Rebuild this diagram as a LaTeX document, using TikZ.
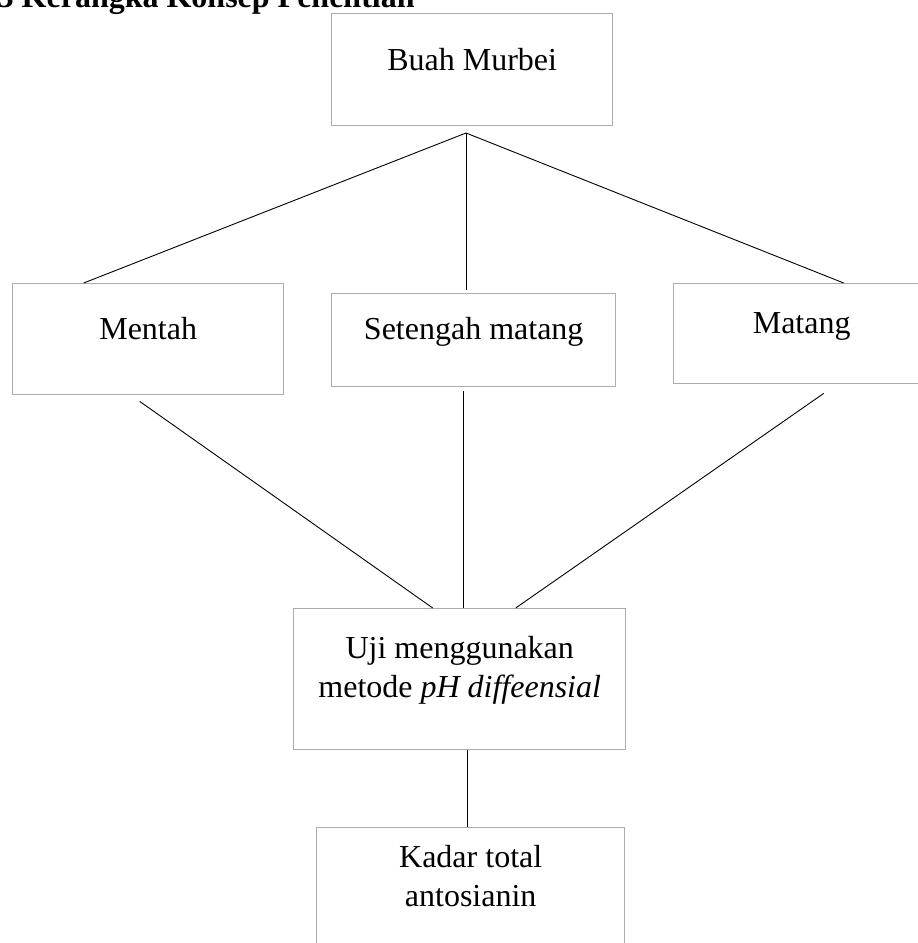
\documentclass[tikz,border=0pt]{standalone}
\usepackage{fontspec}
\setmainfont{Liberation Serif}

\begin{document}
\begin{tikzpicture}[x=0.5pt, y=-0.5pt, every node/.style={inner sep=0pt, font=\fontsize{16}{19.5}\selectfont},
  kotak/.style={draw=black!33, line width=0.7pt, anchor=north west},
  garis/.style={line width=0.45pt}]

\useasboundingbox (0,0) rectangle (917,943);

  % Title
  \node (judul) [anchor=base east, font=\fontsize{16}{19.5}\selectfont\bfseries] at (415,7) {3 Kerangka Konsep Penelitian};

  % Nodes
  \node (murbei) [kotak, minimum width=140.5pt, text height=28.5pt, text depth=27.5pt] at (331,13) {Buah Murbei};
  \node (mentah) [kotak, minimum width=135.5pt, text height=28pt, text depth=27.5pt] at (12,283) {Mentah};
  \node (setengah) [kotak, minimum width=142pt, text height=23pt, text depth=23.5pt] at (331,293) {Setengah matang};
  \node (matang) [kotak, minimum width=128pt, text height=25pt, text depth=25pt] at (673,283) {Matang};
  \node (uji) [kotak, minimum width=166pt, text height=25pt, text depth=45.5pt] at (293,608)
    {\begin{tabular}[t]{@{}c@{}}Uji menggunakan\\ metode \textit{pH diffeensial}\end{tabular}};
  \node (kadar) [kotak, minimum width=154pt, text height=20pt, text depth=50pt] at (316,827)
    {\begin{tabular}[t]{@{}c@{}}Kadar total\\ antosianin\end{tabular}};

  \coordinate (cabang) at (466,133);

  % Lines
  \draw[garis] (cabang) -- ([xshift=-32.25pt]mentah.north);
  \draw[garis] (cabang) -- ([yshift=1.5pt]cabang |- setengah.north);
  \draw[garis] (cabang) -- ([xshift=21pt]matang.north);

  \draw[garis] ([xshift=-4.25pt, yshift=-3pt]mentah.south) -- ([xshift=-13.5pt]uji.north);
  \draw[garis] ([xshift=-5pt, yshift=-2pt]setengah.south) -- ([xshift=2pt]uji.north);
  \draw[garis] ([xshift=11pt, yshift=-4.5pt]matang.south) -- ([xshift=28pt]uji.north);

  \draw[garis] ([xshift=4pt]uji.south) -- ([xshift=4pt]uji.south |- kadar.north);

\end{tikzpicture}
\end{document}
